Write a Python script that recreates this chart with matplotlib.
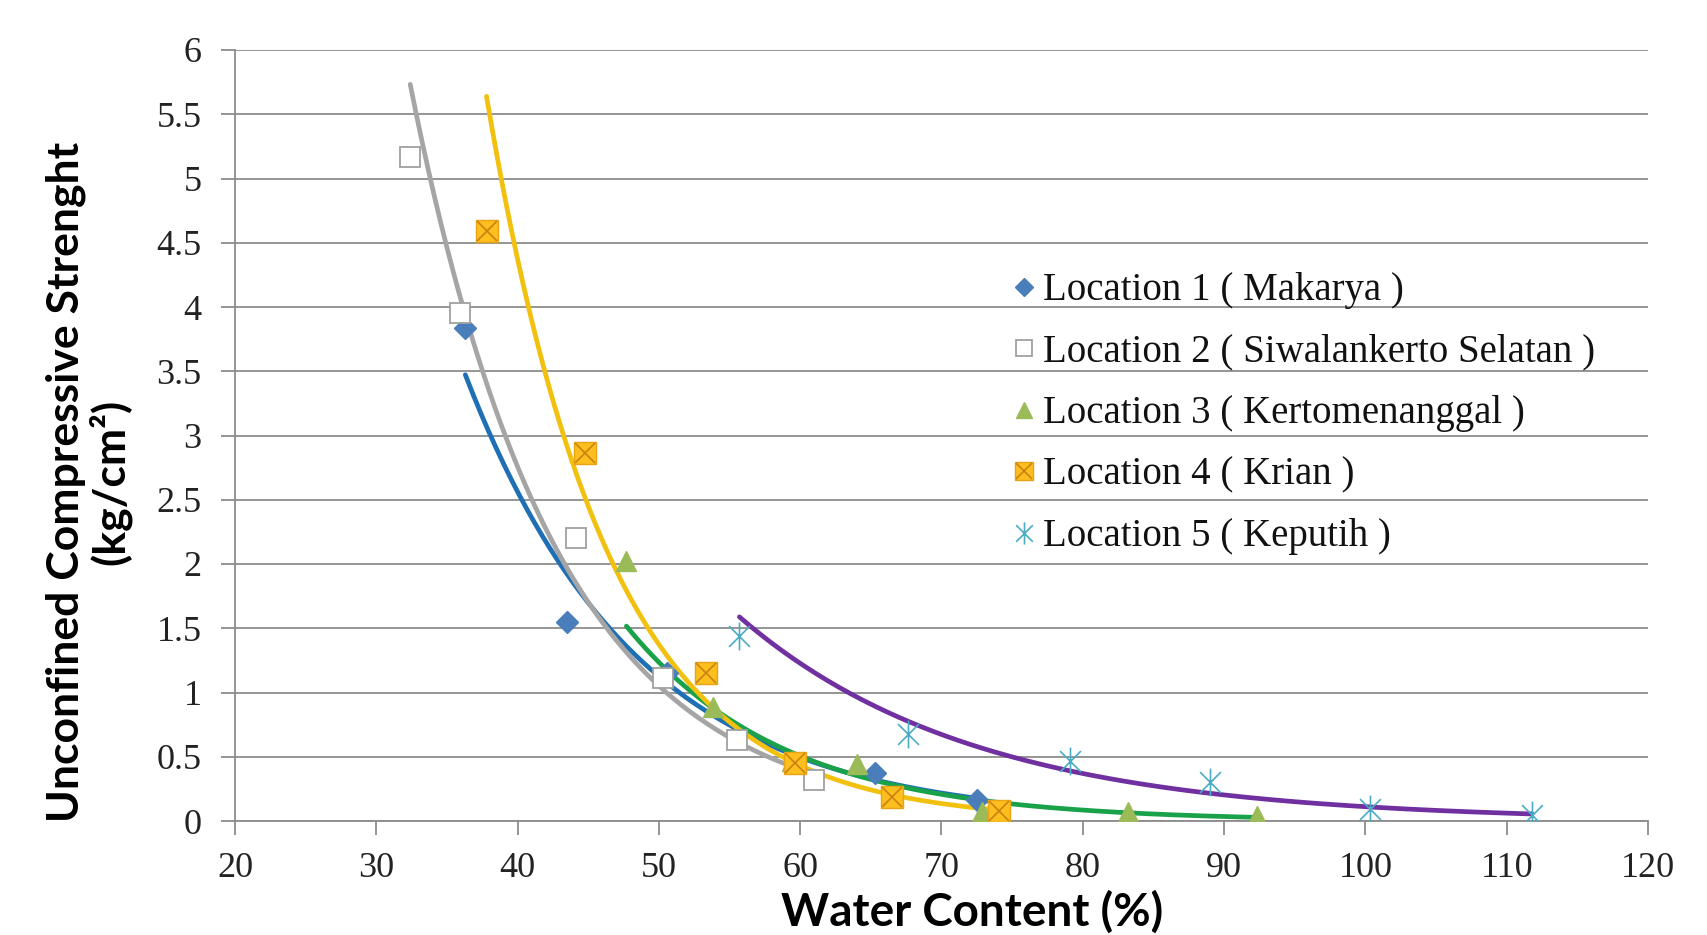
import numpy as np
import matplotlib.pyplot as plt
from matplotlib.path import Path
from matplotlib.legend_handler import HandlerTuple

# water content (%) and unconfined compressive strength (kg/cm2)
wc1 = [36.3, 43.5, 50.6, 65.3, 72.5]
qu1 = [3.84, 1.55, 1.15, 0.37, 0.16]

wc2 = [32.4, 35.9, 44.1, 50.3, 55.5, 61.0]
qu2 = [5.17, 3.95, 2.20, 1.11, 0.63, 0.32]

wc3 = [47.7, 53.8, 59.4, 64.0, 72.9, 83.2, 92.3]
qu3 = [2.02, 0.89, 0.47, 0.44, 0.07, 0.07, 0.04]

wc4 = [37.8, 44.8, 53.3, 59.6, 66.5, 74.1]
qu4 = [4.59, 2.86, 1.15, 0.45, 0.19, 0.08]

wc5 = [55.7, 67.6, 79.1, 89.0, 100.3, 111.8]
qu5 = [1.44, 0.68, 0.47, 0.30, 0.09, 0.05]

labels = ['Location 1 ( Makarya )', 'Location 2 ( Siwalankerto Selatan )',
          'Location 3 ( Kertomenanggal )', 'Location 4 ( Krian )',
          'Location 5 ( Keputih )']

# asterisk marker like the spreadsheet one
ast = Path([(0, -1), (0, 1), (-0.75, -0.75), (0.75, 0.75), (-0.75, 0.75), (0.75, -0.75)],
           [Path.MOVETO, Path.LINETO] * 3)


def exp_trend(x, y):
    # exponential trendline y = a*exp(b*x)
    b, lna = np.polyfit(x, np.log(y), 1)
    xs = np.linspace(min(x), max(x), 200)
    return xs, np.exp(lna + b * xs)


fig = plt.figure(figsize=(17.08, 9.35), dpi=100)
ax = fig.add_axes([235 / 1708, 1 - 821 / 935, 1413 / 1708, 771 / 935])

# trendlines first, markers on top
for x, y, c in [(wc1, qu1, '#1f6fb5'), (wc2, qu2, '#a5a5a5'), (wc3, qu3, '#1aa24a'),
                (wc4, qu4, '#f2c10f'), (wc5, qu5, '#7030a0')]:
    xs, ys = exp_trend(x, y)
    ax.plot(xs, ys, color=c, lw=3.4, zorder=2, solid_capstyle='round')

h1, = ax.plot(wc1, qu1, 'D', color='#4a7ebb', ms=11, ls='none', zorder=3)
h2, = ax.plot(wc2, qu2, 's', mfc='white', mec='#a0a0a0', mew=1.3, ms=14, ls='none', zorder=3)
h3, = ax.plot(wc3, qu3, '^', color='#9bbb59', ms=14, ls='none', zorder=3)
h4a, = ax.plot(wc4, qu4, 's', color='#fcbf1e', mec='#e8a317', ms=16, ls='none', zorder=3)
h4b, = ax.plot(wc4, qu4, 'x', color='#c9820f', ms=14, mew=1.2, ls='none', zorder=4)
h5, = ax.plot(wc5, qu5, marker=ast, color='#4bacc6', ms=20, mew=1.2, ls='none', zorder=3)

ax.set_xlim(20, 120)
ax.set_ylim(0, 6)
ax.set_xticks(np.arange(20, 121, 10))
ax.set_yticks(np.arange(0, 6.01, 0.5))
ax.set_yticklabels(['0', '0.5', '1', '1.5', '2', '2.5', '3', '3.5', '4', '4.5', '5', '5.5', '6'])

ax.yaxis.grid(True, color='#8c8c8c', lw=1.3)
ax.set_axisbelow(True)
for s in ['top', 'right']:
    ax.spines[s].set_visible(False)
for s in ['left', 'bottom']:
    ax.spines[s].set_color('#8c8c8c')
    ax.spines[s].set_linewidth(1.3)
ax.tick_params(axis='both', colors='#8c8c8c', length=10, width=1.3, direction='out')
ax.tick_params(axis='y', pad=14)
ax.tick_params(axis='x', pad=12)
for lab in ax.get_xticklabels() + ax.get_yticklabels():
    lab.set_fontfamily('Liberation Serif')
    lab.set_fontsize(26)
    lab.set_color('#222222')

leg = ax.legend([h1, h2, h3, (h4a, h4b), h5], labels,
                handler_map={tuple: HandlerTuple(ndivide=1, pad=0)},
                loc='upper left', bbox_to_anchor=(0.526, 0.757), frameon=False,
                prop={'family': 'Liberation Serif', 'size': 28},
                handlelength=0.55, handletextpad=0.22, labelspacing=0.63,
                markerscale=0.8)
for t in leg.get_texts():
    t.set_color('#111111')

fig.text(88 / 1708, 1 - 482 / 935, 'Unconfined Compressive Strenght\n(kg/cm²)',
         rotation=90, ha='center', va='center', ma='center',
         family=['Lato', 'DejaVu Sans'], weight='bold', fontsize=32,
         linespacing=1.05)
fig.text(972 / 1708, 1 - 912 / 935, 'Water Content (%)', ha='center', va='center',
         family=['Lato', 'DejaVu Sans'], weight='bold', fontsize=33)

fig.savefig('out.png', dpi=100)
